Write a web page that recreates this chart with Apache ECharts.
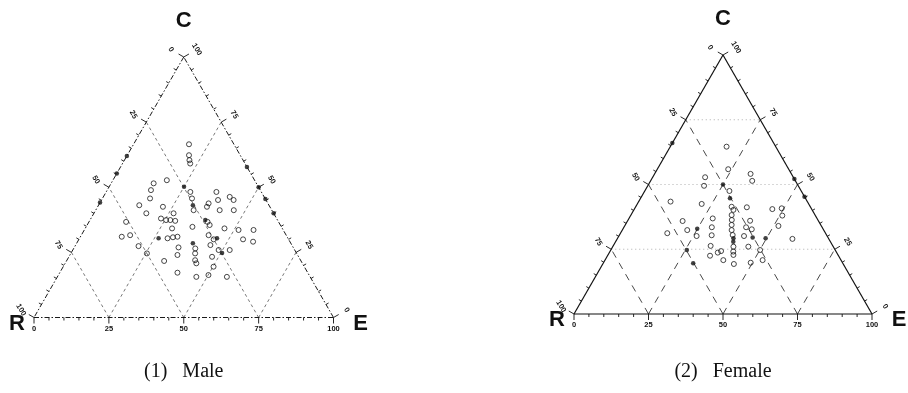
<!DOCTYPE html>
<html>
<head>
<meta charset="utf-8">
<script src="https://cdn.jsdelivr.net/npm/echarts@6/dist/echarts.min.js"></script>
<style>
  html, body { margin: 0; padding: 0; background: #fff; }
  #chart { width: 908px; height: 393px; }
</style>
</head>
<body>
<div id="chart"></div>
<script>
// Ternary compositions in percent: each point is [E, C]; R = 100 - E - C.
const tickValues = [0, 25, 50, 75, 100];
const tickLabels = ['0', '25', '50', '75', '100'];
const minorStep = 5;
const gridLevels = [25, 50, 75];
const vertexNames = ['R', 'E', 'C'];

const maleOpen = [
  [18.5, 66.5], [20.6, 62.3], [21.7, 60.4], [22.6, 59.1],
  [18.0, 52.7], [14.2, 51.5], [14.6, 48.9], [15.9, 45.7], [13.6, 43.1], [17.5, 40.0],
  [21.8, 42.5], [23.4, 38.0], [25.4, 37.4], [26.8, 37.4], [28.6, 37.1], [26.6, 40.0],
  [29.0, 34.2], [31.0, 30.8], [32.4, 31.0], [29.4, 30.4],
  [12.4, 36.7], [16.3, 31.6], [13.8, 31.0], [21.2, 27.4], [25.4, 24.6], [32.6, 21.7],
  [34.8, 26.9], [35.9, 24.0], [39.3, 17.2],
  [28.1, 48.2], [29.9, 45.7], [32.7, 41.2], [35.5, 34.8], [40.6, 26.5], [41.5, 24.6],
  [42.8, 22.0], [43.8, 20.8], [46.4, 15.6],
  [36.5, 42.5], [36.4, 43.8], [36.8, 48.2], [38.9, 45.1], [41.4, 41.2], [39.6, 36.7],
  [40.9, 35.5], [46.5, 34.2], [42.2, 46.3], [44.1, 45.1], [46.1, 41.2], [51.5, 33.6],
  [56.5, 33.6], [58.6, 29.1], [54.8, 30.0], [42.5, 31.6], [45.0, 30.0], [45.0, 27.8],
  [48.7, 25.9], [52.4, 25.9], [47.8, 23.3], [50.2, 19.5], [50.1, 16.3], [56.6, 15.6]
];
const maleFilled = [
  [26.4, 30.4], [31.5, 43.1], [38.8, 28.5], [38.5, 37.4], [45.9, 30.4], [50.4, 24.8],
  [25.0, 50.2],
  [0, 62.0], [0, 55.3], [0, 44.1],
  [42.2, 57.8], [50.0, 50.0], [54.5, 45.5], [60.0, 40.0]
];

const femaleOpen = [
  [18.9, 64.6], [23.8, 55.9], [32.2, 54.1], [34.1, 51.4], [17.6, 52.8], [18.9, 49.5],
  [10.7, 43.4], [21.6, 42.5], [28.4, 47.5], [32.2, 41.4], [33.4, 40.2], [37.4, 41.2],
  [46.3, 40.5], [49.3, 40.8], [50.9, 38.0], [51.6, 34.0], [28.1, 36.9], [29.5, 33.5],
  [31.0, 30.4], [32.7, 26.3], [34.4, 22.5], [36.4, 23.7], [37.2, 24.3], [39.7, 20.8],
  [18.5, 35.9], [21.8, 32.4], [15.7, 31.2], [26.1, 30.1],
  [33.8, 38.2], [34.8, 36.3], [35.7, 34.4], [36.7, 32.4], [38.0, 30.5], [40.5, 26.0],
  [41.4, 24.1], [42.1, 22.8], [44.0, 19.3],
  [41.0, 33.5], [41.1, 36.0], [43.3, 32.7], [42.0, 30.1], [45.5, 26.0], [50.1, 24.7],
  [49.4, 19.8], [52.9, 20.8], [58.8, 29.0]
];
const femaleFilled = [
  [25.0, 50.0], [30.0, 44.7], [24.9, 32.9], [25.5, 24.7], [30.2, 19.6],
  [38.9, 29.2], [39.5, 27.9], [45.2, 29.5], [49.7, 29.2],
  [0, 66.0], [47.9, 52.1], [54.7, 45.3]
];

const SQ3 = Math.sqrt(3) / 2;
// ternary [E, C] -> plane coordinates of an equilateral triangle with side 100
function toXY(e, c) { return [e + c / 2, c * SQ3]; }

// positions along the three sides, and their outward normals in screen space
const sides = {
  bottom: { at: v => toXY(v, 0), normal: [0, 1] },             // E scale, R -> E
  right:  { at: v => toXY(100 - v, v), normal: [0.866, -0.5] }, // C scale, E -> C
  left:   { at: v => toXY(0, 100 - v), normal: [-0.866, -0.5] } // R scale, C -> R
};

const panels = [
  {
    caption: '(1)   Male', open: maleOpen, filled: maleFilled,
    grid: { left: 34, top: 57, width: 299.5, height: 260.5 },
    edge: { stroke: '#1a1a1a', lineWidth: 1, lineDash: [5, 2, 1.5, 2] },
    diag: { stroke: '#555', lineWidth: 0.8, lineDash: [3, 3] },
    horiz: null
  },
  {
    caption: '(2)   Female', open: femaleOpen, filled: femaleFilled,
    grid: { left: 574, top: 55, width: 298, height: 259 },
    edge: { stroke: '#111', lineWidth: 1.2 },
    diag: { stroke: '#333', lineWidth: 0.9, lineDash: [7, 6] },
    horiz: { stroke: '#999', lineWidth: 0.8, lineDash: [1, 3] }
  }
];

function frameRenderer(panel) {
  return function (params, api) {
    const kids = [];
    const P = p => api.coord(p);
    const line = (a, b, style) => kids.push({
      type: 'line', shape: { x1: a[0], y1: a[1], x2: b[0], y2: b[1] },
      style: Object.assign({ fill: null }, style)
    });
    const text = (x, y, str, font, rot) => kids.push({
      type: 'text', x: x, y: y, rotation: rot || 0,
      style: Object.assign({ text: str, fill: '#111', align: 'center', verticalAlign: 'middle' }, font)
    });

    // interior guide lines
    gridLevels.forEach(g => {
      line(P(toXY(g, 0)), P(toXY(g, 100 - g)), panel.diag);          // constant E
      line(P(toXY(100 - g, 0)), P(toXY(0, 100 - g)), panel.diag);    // constant R
      if (panel.horiz) line(P(toXY(0, g)), P(toXY(100 - g, g)), panel.horiz); // constant C
    });

    // triangle sides
    const vR = P(toXY(0, 0)), vE = P(toXY(100, 0)), vC = P(toXY(0, 100));
    line(vR, vE, panel.edge);
    line(vE, vC, panel.edge);
    line(vC, vR, panel.edge);

    // ticks and tick labels
    const tickStyle = { stroke: '#111', lineWidth: 0.9 };
    const labelFont = { fontSize: 7.5, fontWeight: 'bold', fontFamily: 'Liberation Sans, Arial, sans-serif' };
    Object.keys(sides).forEach(k => {
      const s = sides[k];
      for (let v = 0; v <= 100; v += minorStep) {
        const major = tickValues.indexOf(v) >= 0;
        const len = major ? 6 : 3;
        const b = P(s.at(v));
        line(b, [b[0] + s.normal[0] * len, b[1] + s.normal[1] * len], tickStyle);
      }
      tickValues.forEach((v, i) => {
        const b = P(s.at(v));
        const d = k === 'bottom' ? 11 : 15;
        const rot = k === 'bottom' ? 0 : -Math.PI / 3;
        text(b[0] + s.normal[0] * d, b[1] + s.normal[1] * d, tickLabels[i], labelFont, rot);
      });
    });

    // vertex names
    const big = { fontSize: 22, fontWeight: 'bold', fontFamily: 'Liberation Sans, Arial, sans-serif' };
    text(vR[0] - 17, vR[1] + 6, vertexNames[0], big);
    text(vE[0] + 27, vE[1] + 6, vertexNames[1], big);
    text(vC[0], vC[1] - 36, vertexNames[2], big);
    return { type: 'group', children: kids };
  };
}

const option = {
  animation: false,
  backgroundColor: '#fff',
  grid: panels.map(p => Object.assign({ containLabel: false }, p.grid)),
  xAxis: panels.map((p, i) => ({ type: 'value', gridIndex: i, min: 0, max: 100, show: false })),
  yAxis: panels.map((p, i) => ({ type: 'value', gridIndex: i, min: 0, max: 100 * SQ3, show: false })),
  graphic: panels.map(p => ({
    type: 'text',
    x: p.grid.left + p.grid.width / 2,
    y: 372,
    style: {
      text: p.caption, fill: '#111', align: 'center', verticalAlign: 'middle',
      fontSize: 20, fontFamily: 'Liberation Serif, Times New Roman, serif'
    }
  })),
  series: []
};

panels.forEach((p, i) => {
  option.series.push({
    type: 'custom', xAxisIndex: i, yAxisIndex: i, silent: true, clip: false,
    renderItem: frameRenderer(p), data: [[50, 40]], z: 1
  });
  option.series.push({
    type: 'scatter', xAxisIndex: i, yAxisIndex: i, silent: true, z: 3,
    symbol: 'circle', symbolSize: 5,
    itemStyle: { color: 'rgba(255,255,255,0)', borderColor: '#1a1a1a', borderWidth: 1 },
    data: p.open.map(d => toXY(d[0], d[1]))
  });
  option.series.push({
    type: 'scatter', xAxisIndex: i, yAxisIndex: i, silent: true, z: 4,
    symbol: 'circle', symbolSize: 4.5,
    itemStyle: { color: '#111' },
    data: p.filled.map(d => toXY(d[0], d[1]))
  });
});

const chart = echarts.init(document.getElementById('chart'), null, { renderer: 'canvas' });
chart.setOption(option);
</script>
</body>
</html>
